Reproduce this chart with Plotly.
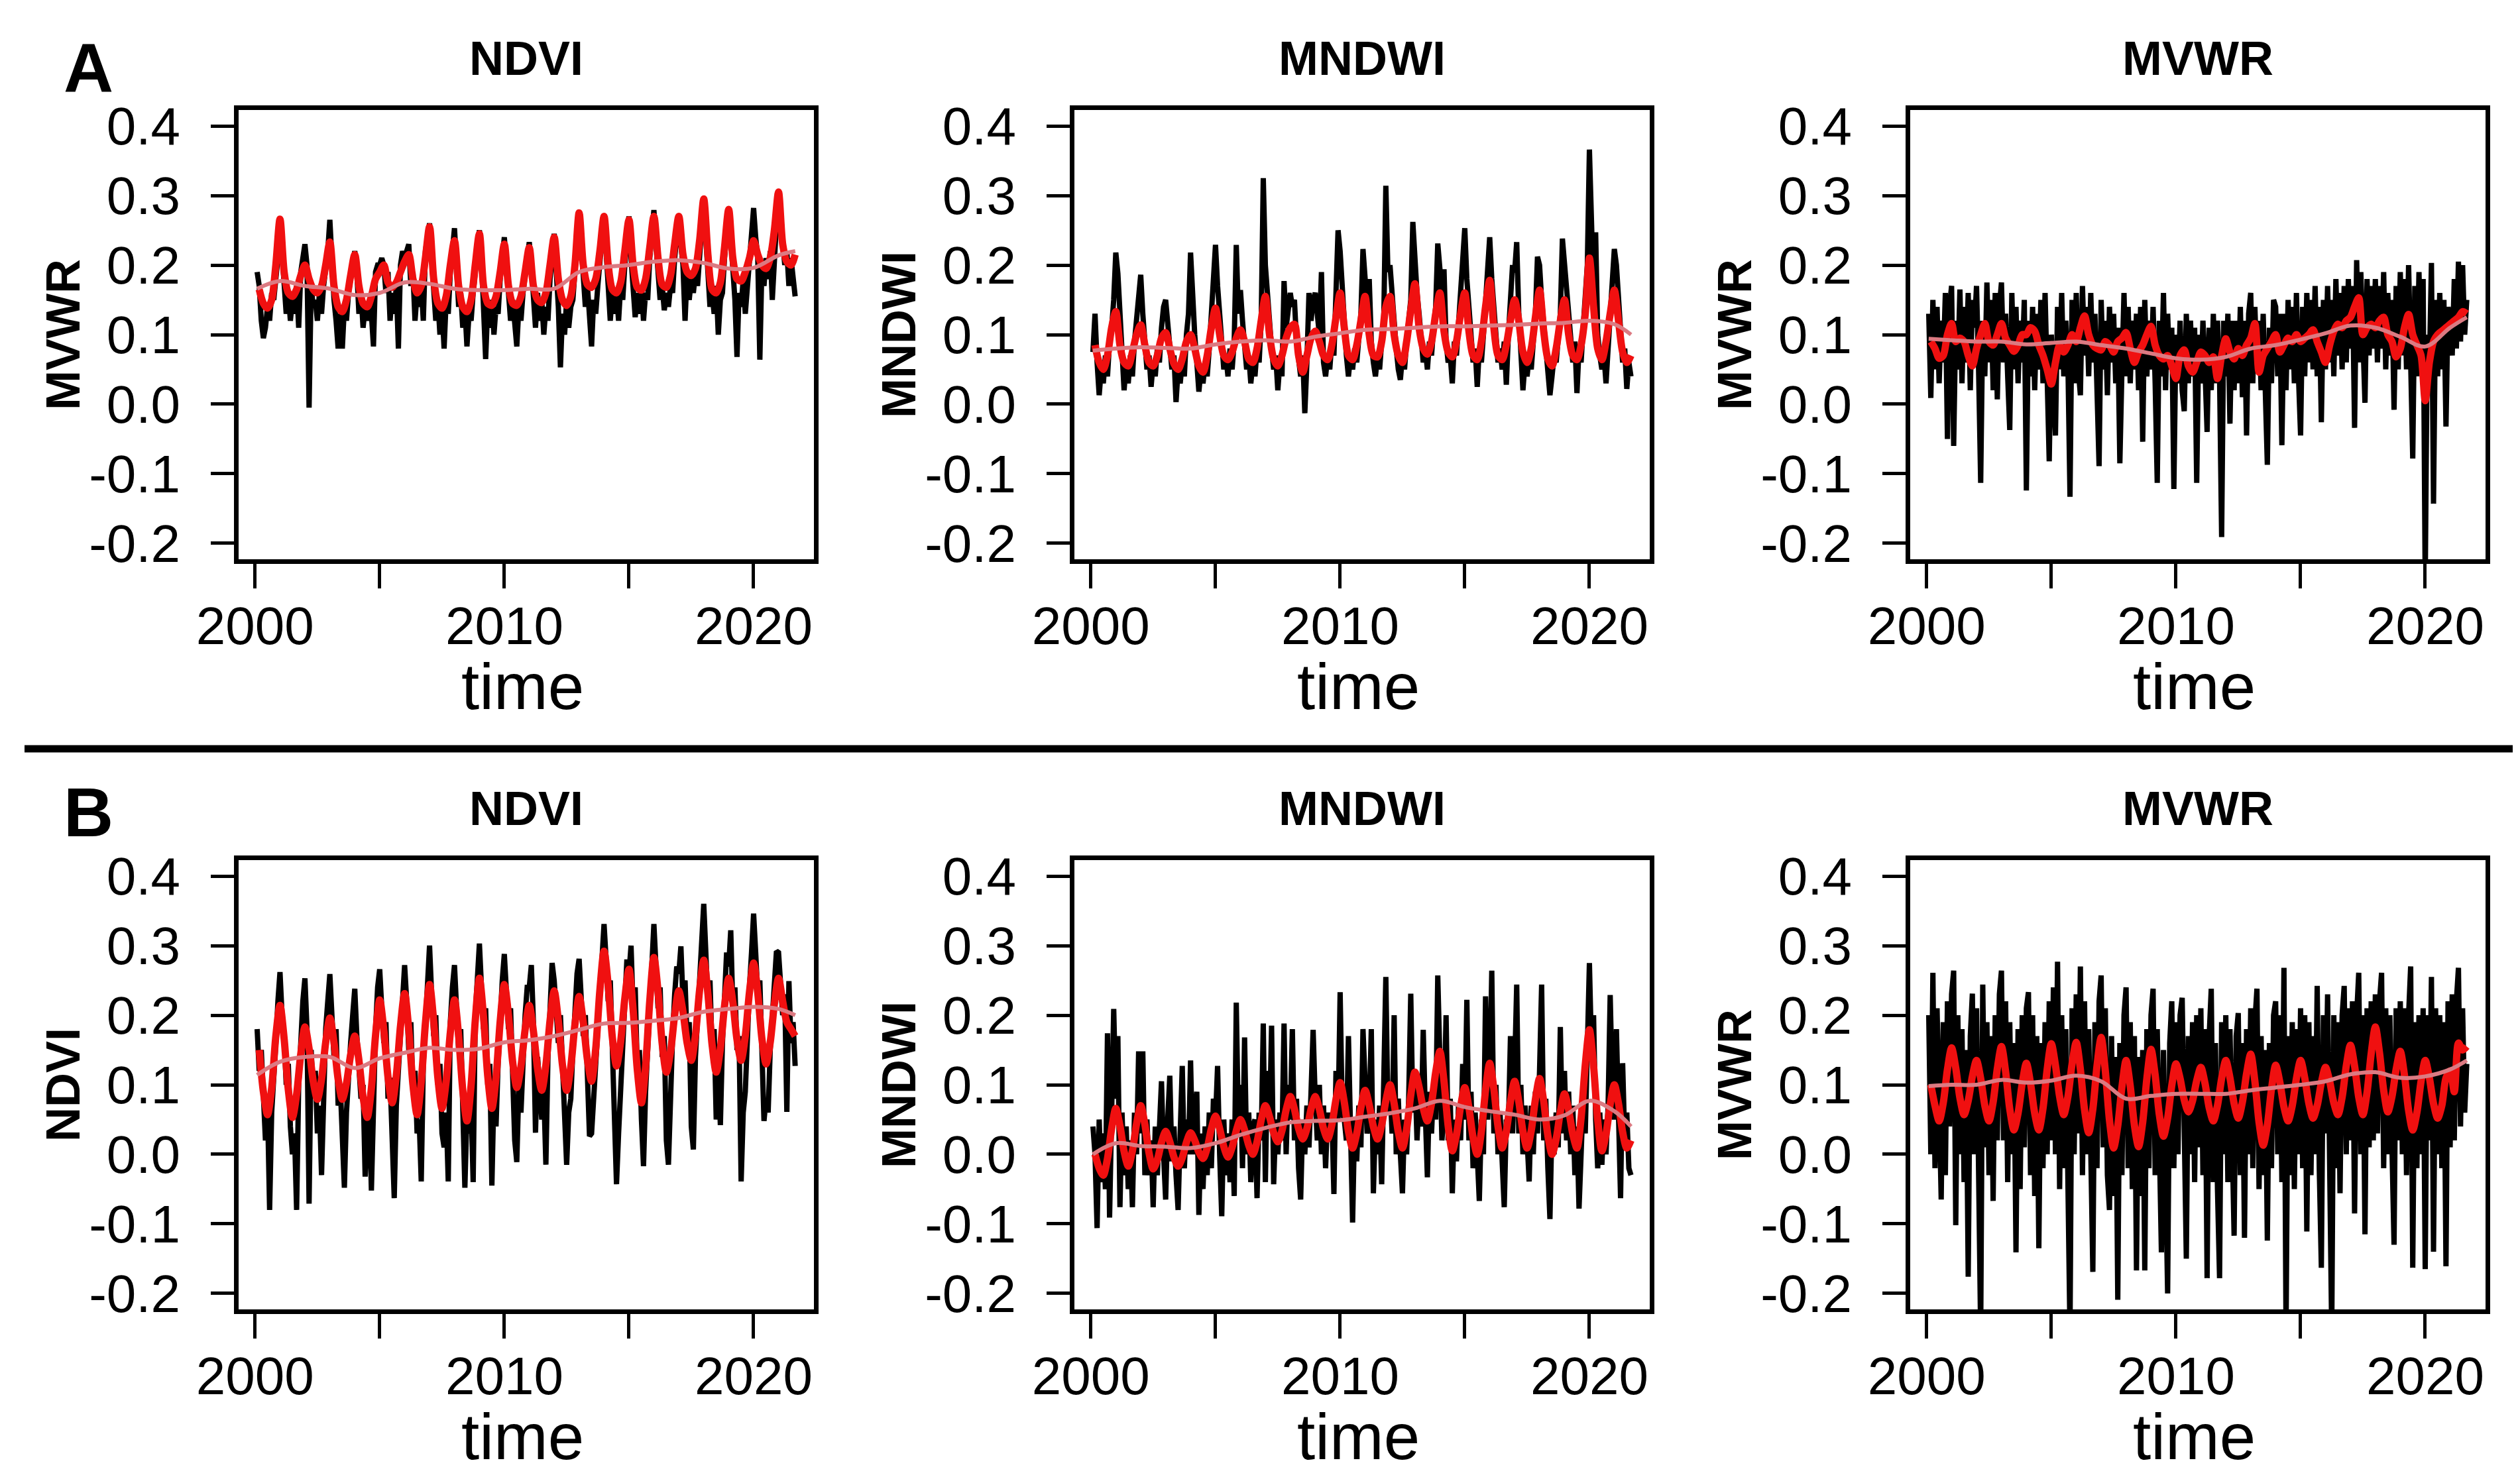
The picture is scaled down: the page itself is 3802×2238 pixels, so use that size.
import plotly.graph_objects as go

W, H = 3802, 2238

# ---------------- time grids ----------------
obs_time = [2000 + (k + 1) / 12 for k in range(260)]        # monthly, Feb 2000 - Sep 2021
fit_time = [2000 + (2 * j + 2) / 12 for j in range(130)]    # every second month, Mar 2000 - Sep 2021
trend_time = [2000.08] + list(range(2001, 2022)) + [2021.67]

# ---------------- text ----------------
col_titles = ["NDVI", "MNDWI", "MVWR"]
a_ylabels = ["MVWR", "MNDWI", "MVWR"]
b_ylabels = ["NDVI", "MNDWI", "MVWR"]
row_letters = ["A", "B"]
x_label = "time"
y_tickvals = [0.4, 0.3, 0.2, 0.1, 0.0, -0.1, -0.2]
y_ticktext = ["0.4", "0.3", "0.2", "0.1", "0.0", "-0.1", "-0.2"]
x_tickvals = [2000, 2005, 2010, 2015, 2020]
x_ticktext = ["2000", "", "2010", "", "2020"]

# ================= ROW A =================
a_ndvi_obs = [
    0.19, 0.17, 0.12, 0.095, 0.11, 0.14, 0.12, 0.16, 0.15, 0.18, 0.21,
    0.26, 0.22, 0.18, 0.13, 0.16, 0.12, 0.15, 0.13, 0.17, 0.11, 0.19, 0.21,
    0.23, 0.2, -0.005, 0.17, 0.14, 0.15, 0.12, 0.16, 0.13, 0.17, 0.19, 0.22,
    0.265, 0.2, 0.15, 0.12, 0.08, 0.13, 0.08, 0.14, 0.12, 0.16, 0.18, 0.21,
    0.22, 0.19, 0.13, 0.16, 0.11, 0.14, 0.12, 0.15, 0.13, 0.083, 0.19, 0.2,
    0.2, 0.21, 0.2, 0.16, 0.19, 0.12, 0.16, 0.13, 0.17, 0.08, 0.2, 0.22,
    0.21, 0.22, 0.23, 0.17, 0.19, 0.12, 0.16, 0.14, 0.17, 0.12, 0.22, 0.24,
    0.26, 0.21, 0.16, 0.12, 0.15, 0.1, 0.14, 0.08, 0.15, 0.13, 0.19, 0.22,
    0.253, 0.2, 0.14, 0.16, 0.11, 0.14, 0.083, 0.13, 0.12, 0.16, 0.19, 0.23,
    0.25, 0.21, 0.15, 0.065, 0.14, 0.11, 0.15, 0.1, 0.14, 0.13, 0.18, 0.21,
    0.24, 0.2, 0.16, 0.12, 0.15, 0.11, 0.083, 0.14, 0.12, 0.16, 0.19, 0.22,
    0.233, 0.2, 0.15, 0.11, 0.16, 0.12, 0.15, 0.1, 0.14, 0.12, 0.18, 0.22,
    0.245, 0.19, 0.14, 0.053, 0.13, 0.1, 0.15, 0.11, 0.14, 0.15, 0.19, 0.23,
    0.277, 0.23, 0.18, 0.14, 0.17, 0.13, 0.083, 0.15, 0.13, 0.17, 0.2, 0.24,
    0.273, 0.22, 0.18, 0.12, 0.16, 0.13, 0.16, 0.12, 0.17, 0.15, 0.2, 0.24,
    0.27, 0.21, 0.17, 0.125, 0.16, 0.13, 0.17, 0.12, 0.16, 0.15, 0.21, 0.24,
    0.279, 0.23, 0.19, 0.15, 0.17, 0.135, 0.16, 0.14, 0.17, 0.16, 0.21, 0.25,
    0.27, 0.23, 0.2, 0.12, 0.19, 0.15, 0.18, 0.16, 0.19, 0.17, 0.22, 0.25,
    0.295, 0.24, 0.19, 0.14, 0.16, 0.13, 0.17, 0.1, 0.15, 0.16, 0.21, 0.25,
    0.28, 0.24, 0.2, 0.15, 0.068, 0.16, 0.14, 0.18, 0.13, 0.17, 0.2, 0.25,
    0.282, 0.24, 0.21, 0.064, 0.2, 0.17, 0.21, 0.18, 0.22, 0.15, 0.23, 0.26,
    0.3, 0.27, 0.23, 0.2, 0.22, 0.17, 0.21, 0.18, 0.155,
]
a_ndvi_fit = [
    0.165, 0.145, 0.138, 0.15, 0.2,
    0.266, 0.19, 0.16, 0.155, 0.165, 0.185,
    0.2, 0.18, 0.165, 0.16, 0.17, 0.2,
    0.233, 0.17, 0.14, 0.133, 0.15, 0.185,
    0.215, 0.17, 0.145, 0.14, 0.155, 0.18,
    0.19, 0.2, 0.175, 0.168, 0.175, 0.19,
    0.205, 0.215, 0.18, 0.16, 0.17, 0.21,
    0.255, 0.18, 0.145, 0.138, 0.155, 0.2,
    0.235, 0.17, 0.14, 0.133, 0.15, 0.2,
    0.245, 0.17, 0.145, 0.142, 0.155, 0.19,
    0.23, 0.17, 0.145, 0.142, 0.155, 0.19,
    0.225, 0.17, 0.15, 0.146, 0.16, 0.2,
    0.24, 0.18, 0.15, 0.142, 0.155, 0.2,
    0.275, 0.2, 0.172, 0.168, 0.18, 0.22,
    0.27, 0.2, 0.165, 0.16, 0.175, 0.22,
    0.265, 0.2, 0.168, 0.164, 0.18, 0.225,
    0.27, 0.21, 0.172, 0.168, 0.185, 0.23,
    0.27, 0.215, 0.19, 0.185, 0.195, 0.235,
    0.295, 0.215, 0.165, 0.16, 0.175, 0.225,
    0.28, 0.21, 0.18, 0.177, 0.19, 0.21,
    0.235, 0.215, 0.2, 0.195, 0.21, 0.25,
    0.305, 0.23, 0.205, 0.2, 0.215,
]
a_ndvi_trend = [0.166, 0.177, 0.17, 0.166, 0.157, 0.16, 0.175, 0.173, 0.166, 0.164, 0.164, 0.166,
                0.166, 0.19, 0.197, 0.2, 0.205, 0.207, 0.203, 0.195, 0.196, 0.214, 0.22]

a_mndwi_obs = [
    0.075, 0.13, 0.06, 0.013, 0.05, 0.03, 0.07, 0.04, 0.09, 0.11, 0.15,
    0.218, 0.188, 0.12, 0.06, 0.02, 0.06, 0.03, 0.07, 0.04, 0.09, 0.12, 0.15,
    0.186, 0.13, 0.09, 0.05, 0.07, 0.025, 0.06, 0.04, 0.08, 0.06, 0.11, 0.14,
    0.15, 0.12, 0.08, 0.05, 0.07, 0.003, 0.05, 0.03, 0.06, 0.04, 0.1, 0.13,
    0.218, 0.14, 0.1, 0.06, 0.018, 0.05, 0.03, 0.06, 0.04, 0.08, 0.13, 0.16,
    0.229, 0.17, 0.12, 0.08, 0.05, 0.07, 0.04, 0.08, 0.05, 0.09, 0.229, 0.13,
    0.164, 0.12, 0.08, 0.05, 0.07, 0.03, 0.06, 0.04, 0.08, 0.06, 0.12, 0.325,
    0.2, 0.15, 0.11, 0.08, 0.05, 0.07, 0.02, 0.06, 0.04, 0.177, 0.11, 0.14,
    0.16, 0.14, 0.15, 0.09, 0.06, 0.04, 0.07, -0.013, 0.06, 0.16, 0.12, 0.15,
    0.16, 0.12, 0.1, 0.19, 0.06, 0.04, 0.07, 0.05, 0.09, 0.07, 0.14, 0.25,
    0.22, 0.16, 0.12, 0.07, 0.04, 0.07, 0.05, 0.08, 0.06, 0.1, 0.13, 0.223,
    0.18, 0.14, 0.18, 0.09, 0.06, 0.04, 0.07, 0.05, 0.09, 0.12, 0.314, 0.19,
    0.2, 0.15, 0.12, 0.08, 0.05, 0.035, 0.07, 0.05, 0.09, 0.12, 0.15, 0.262,
    0.2, 0.16, 0.13, 0.09, 0.06, 0.08, 0.05, 0.09, 0.07, 0.11, 0.14, 0.231,
    0.2, 0.16, 0.194, 0.09, 0.06, 0.07, 0.03, 0.09, 0.07, 0.11, 0.15, 0.2,
    0.253, 0.18, 0.13, 0.09, 0.06, 0.08, 0.025, 0.08, 0.06, 0.1, 0.14, 0.2,
    0.24, 0.18, 0.14, 0.1, 0.06, 0.08, 0.05, 0.09, 0.028, 0.1, 0.14, 0.2,
    0.19, 0.233, 0.13, 0.08, 0.02, 0.06, 0.04, 0.07, 0.05, 0.09, 0.13, 0.212,
    0.2, 0.15, 0.11, 0.07, 0.05, 0.013, 0.04, 0.07, 0.06, 0.09, 0.13, 0.238,
    0.2, 0.16, 0.12, 0.08, 0.06, 0.09, 0.016, 0.08, 0.06, 0.11, 0.15, 0.2,
    0.366, 0.22, 0.16, 0.247, 0.1, 0.07, 0.05, 0.07, 0.03, 0.08, 0.13, 0.18,
    0.223, 0.2, 0.15, 0.1, 0.06, 0.08, 0.022, 0.06, 0.04,
]
a_mndwi_fit = [
    0.085, 0.06, 0.05, 0.07, 0.11,
    0.133, 0.085, 0.06, 0.055, 0.075, 0.1,
    0.114, 0.085, 0.06, 0.055, 0.07, 0.095,
    0.103, 0.08, 0.058, 0.05, 0.065, 0.09,
    0.1, 0.08, 0.055, 0.046, 0.07, 0.11,
    0.138, 0.1, 0.07, 0.064, 0.075, 0.095,
    0.107, 0.09, 0.065, 0.06, 0.08, 0.12,
    0.155, 0.1, 0.065, 0.055, 0.07, 0.095,
    0.11, 0.115, 0.07, 0.046, 0.07, 0.095,
    0.105, 0.09, 0.07, 0.064, 0.085, 0.125,
    0.16, 0.11, 0.07, 0.064, 0.085, 0.12,
    0.155, 0.1, 0.07, 0.068, 0.09, 0.14,
    0.155, 0.1, 0.07, 0.06, 0.09, 0.135,
    0.173, 0.11, 0.08, 0.072, 0.09, 0.13,
    0.16, 0.105, 0.075, 0.068, 0.09, 0.13,
    0.16, 0.105, 0.07, 0.064, 0.09, 0.14,
    0.178, 0.11, 0.07, 0.064, 0.085, 0.12,
    0.15, 0.12, 0.075, 0.06, 0.08, 0.125,
    0.164, 0.105, 0.065, 0.055, 0.08, 0.12,
    0.15, 0.1, 0.07, 0.064, 0.085, 0.13,
    0.21, 0.14, 0.08, 0.064, 0.09, 0.13,
    0.164, 0.12, 0.075, 0.06, 0.07,
]
a_mndwi_trend = [0.077, 0.08, 0.082, 0.081, 0.08, 0.086, 0.09, 0.092, 0.09, 0.097, 0.102, 0.107,
                 0.108, 0.11, 0.112, 0.112, 0.113, 0.114, 0.116, 0.117, 0.12, 0.115, 0.1]

a_mvwr_obs = [
    0.13, 0.009, 0.15, 0.05, 0.14, 0.03, 0.12, 0.06, 0.16, -0.05, 0.14,
    0.17, -0.06, 0.12, 0.05, 0.165, 0.03, 0.14, 0.06, 0.16, 0.02, 0.15, 0.11,
    0.17, 0.05, -0.113, 0.12, 0.04, 0.175, 0.06, 0.15, 0.02, 0.16, 0.007, 0.14,
    0.175, 0.06, 0.13, 0.04, -0.037, 0.16, 0.05, 0.14, 0.03, 0.12, 0.06, 0.15,
    -0.124, 0.12, 0.04, 0.14, 0.02, 0.13, 0.05, 0.15, 0.03, 0.16, 0.06, -0.082,
    0.1, 0.03, -0.045, 0.14, 0.05, 0.16, 0.04, 0.12, 0.06, -0.133, 0.15, 0.03,
    0.16, 0.05, 0.013, 0.17, 0.07, 0.14, 0.04, 0.16, 0.06, 0.13, 0.03, -0.089,
    0.15, 0.05, 0.12, 0.013, 0.14, 0.06, 0.13, 0.03, 0.11, -0.085, 0.05, 0.16,
    0.04, 0.14, 0.03, 0.12, 0.05, 0.13, 0.02, 0.14, -0.054, 0.15, 0.04, 0.12,
    0.05, 0.14, 0.03, -0.113, 0.12, 0.04, 0.16, 0.02, 0.13, 0.05, 0.11, -0.122,
    0.1, 0.03, 0.12, 0.02, -0.01, 0.13, 0.03, 0.12, 0.04, 0.11, -0.113, 0.1,
    0.03, 0.12, 0.05, -0.04, 0.11, 0.02, 0.13, 0.03, 0.12, 0.04, -0.191, 0.12,
    0.04, 0.13, -0.028, 0.12, 0.02, 0.12, 0.03, 0.14, 0.01, 0.12, -0.045, 0.13,
    0.16, 0.03, 0.14, 0.05, 0.12, 0.02, 0.13, 0.04, -0.087, 0.11, 0.03, 0.15,
    0.14, 0.04, 0.13, -0.059, 0.13, 0.02, 0.15, 0.05, 0.14, 0.03, 0.16, 0.04,
    -0.045, 0.14, 0.04, 0.16, 0.06, 0.15, 0.05, 0.17, 0.04, 0.14, -0.026, 0.15,
    0.05, 0.17, 0.06, 0.15, 0.04, 0.18, 0.07, 0.16, 0.05, 0.17, 0.06, 0.18,
    0.08, 0.17, -0.034, 0.207, 0.06, 0.19, 0.07, 0.002, 0.18, 0.07, 0.17, 0.08,
    0.18, 0.06, 0.17, 0.08, 0.19, 0.05, 0.16, 0.07, 0.15, -0.008, 0.17, 0.05,
    0.19, 0.07, 0.18, 0.05, 0.2, 0.06, -0.078, 0.17, 0.04, 0.19, 0.06, 0.18,
    -0.26, 0.1, 0.05, 0.203, -0.143, 0.15, 0.04, 0.16, 0.05, 0.15, -0.032, 0.14,
    0.1, 0.07, 0.18, 0.08, 0.205, 0.09, 0.2, 0.1, 0.15,
]
a_mvwr_fit = [
    0.09, 0.08, 0.066, 0.07, 0.1,
    0.116, 0.09, 0.095, 0.09, 0.07, 0.055,
    0.08, 0.1, 0.116, 0.09, 0.085, 0.1,
    0.116, 0.095, 0.085, 0.076, 0.085, 0.1,
    0.1, 0.11, 0.105, 0.085, 0.07, 0.05,
    0.029, 0.06, 0.085, 0.075, 0.085, 0.1,
    0.09, 0.11, 0.127, 0.1, 0.085, 0.08,
    0.078, 0.09, 0.085, 0.075, 0.09, 0.095,
    0.103, 0.08, 0.06, 0.075, 0.085, 0.1,
    0.112, 0.085, 0.07, 0.065, 0.07, 0.055,
    0.037, 0.07, 0.078, 0.055, 0.046, 0.06,
    0.075, 0.07, 0.06, 0.068, 0.037, 0.07,
    0.094, 0.075, 0.065, 0.08, 0.07, 0.085,
    0.095, 0.116, 0.046, 0.07, 0.08, 0.09,
    0.1, 0.075, 0.085, 0.095, 0.09, 0.1,
    0.09, 0.095, 0.1, 0.107, 0.09, 0.075,
    0.06, 0.085, 0.105, 0.115, 0.11, 0.12,
    0.125, 0.14, 0.153, 0.1, 0.11, 0.115,
    0.11, 0.12, 0.125, 0.1, 0.09, 0.068,
    0.08, 0.11, 0.129, 0.1, 0.085, 0.07,
    0.005, 0.06, 0.09, 0.1, 0.105, 0.11,
    0.115, 0.12, 0.125, 0.133, 0.13,
]
a_mvwr_trend = [0.094, 0.092, 0.09, 0.09, 0.086, 0.088, 0.09, 0.085, 0.08, 0.073, 0.066, 0.064,
                0.068, 0.08, 0.085, 0.093, 0.102, 0.113, 0.11, 0.097, 0.083, 0.11, 0.125]

# ================= ROW B =================
b_ndvi_obs = [
    0.18, 0.12, 0.15, 0.06, 0.02, 0.07, -0.08, 0.06, 0.1, 0.16, 0.22,
    0.262, 0.2, 0.17, 0.1, 0.13, 0.04, 0.0, 0.03, -0.08, 0.1, 0.17, 0.22,
    0.253, 0.18, -0.071, 0.15, 0.09, 0.12, 0.03, 0.07, -0.03, 0.11, 0.18, 0.22,
    0.259, 0.2, 0.14, 0.18, 0.07, 0.1, 0.02, -0.048, 0.06, 0.12, 0.16, 0.2,
    0.238, 0.17, 0.12, 0.08, 0.1, -0.032, 0.04, 0.07, -0.052, 0.1, 0.18, 0.24,
    0.266, 0.21, 0.16, 0.19, 0.08, 0.11, 0.0, -0.063, 0.07, 0.12, 0.19, 0.24,
    0.272, 0.22, 0.15, 0.19, 0.09, 0.12, 0.03, 0.05, -0.039, 0.13, 0.2, 0.25,
    0.3, 0.23, 0.17, 0.2, 0.1, 0.13, 0.03, 0.01, 0.06, -0.039, 0.19, 0.24,
    0.272, 0.21, 0.15, 0.18, 0.08, -0.048, 0.06, 0.03, 0.07, -0.04, 0.2, 0.26,
    0.303, 0.24, 0.18, 0.21, 0.1, 0.13, -0.045, 0.09, 0.04, 0.13, 0.21, 0.25,
    0.288, 0.23, 0.18, 0.21, 0.12, 0.02, -0.011, 0.1, 0.06, 0.14, 0.2, 0.24,
    0.24, 0.272, 0.19, 0.031, 0.14, 0.1, 0.05, 0.09, -0.015, 0.14, 0.21, 0.275,
    0.25, 0.21, 0.16, 0.2, 0.11, 0.03, -0.015, 0.06, 0.08, 0.15, 0.22, 0.26,
    0.281, 0.23, 0.17, 0.2, 0.12, 0.026, 0.03, 0.07, 0.13, 0.18, 0.24, 0.3,
    0.331, 0.28, 0.22, 0.25, 0.15, 0.06, -0.043, 0.03, 0.09, 0.17, 0.23, 0.28,
    0.26, 0.3, 0.21, 0.24, 0.12, 0.15, 0.05, -0.017, 0.09, 0.16, 0.23, 0.28,
    0.331, 0.27, 0.21, 0.24, 0.14, 0.17, 0.02, -0.015, 0.12, 0.17, 0.23, 0.27,
    0.26, 0.299, 0.22, 0.25, 0.16, 0.19, 0.04, 0.007, 0.14, 0.19, 0.25, 0.31,
    0.36, 0.29, 0.22, 0.25, 0.15, 0.18, 0.05, 0.12, 0.042, 0.16, 0.23, 0.29,
    0.27, 0.322, 0.21, 0.24, 0.15, 0.17, -0.039, 0.06, 0.09, 0.18, 0.24, 0.29,
    0.346, 0.29, 0.23, 0.25, 0.15, 0.048, 0.08, 0.06, 0.15, 0.2, 0.25, 0.292,
    0.29, 0.25, 0.2, 0.23, 0.061, 0.249, 0.16, 0.19, 0.127,
]
b_ndvi_fit = [
    0.15, 0.09, 0.057, 0.095, 0.17,
    0.214, 0.166, 0.093, 0.053, 0.086, 0.144,
    0.183, 0.152, 0.105, 0.079, 0.108, 0.161,
    0.196, 0.161, 0.108, 0.079, 0.102, 0.143,
    0.17, 0.135, 0.082, 0.053, 0.095, 0.171,
    0.222, 0.178, 0.111, 0.074, 0.113, 0.184,
    0.231, 0.179, 0.1, 0.057, 0.104, 0.188,
    0.244, 0.191, 0.11, 0.066, 0.105, 0.175,
    0.222, 0.17, 0.092, 0.048, 0.099, 0.192,
    0.253, 0.197, 0.113, 0.066, 0.11, 0.191,
    0.244, 0.2, 0.133, 0.096, 0.126, 0.179,
    0.214, 0.177, 0.123, 0.092, 0.128, 0.192,
    0.235, 0.192, 0.128, 0.092, 0.126, 0.187,
    0.227, 0.19, 0.136, 0.105, 0.152, 0.236,
    0.292, 0.243, 0.168, 0.127, 0.162, 0.224,
    0.266, 0.208, 0.122, 0.074, 0.126, 0.22,
    0.283, 0.234, 0.159, 0.118, 0.147, 0.2,
    0.235, 0.205, 0.16, 0.135, 0.171, 0.236,
    0.279, 0.231, 0.158, 0.118, 0.152, 0.213,
    0.253, 0.219, 0.165, 0.135, 0.17, 0.233,
    0.275, 0.232, 0.166, 0.13, 0.161, 0.216,
    0.253, 0.22, 0.19, 0.18, 0.17,
]
b_ndvi_trend = [0.114, 0.133, 0.14, 0.14, 0.124, 0.138, 0.146, 0.153, 0.15, 0.152, 0.161, 0.164,
                0.17, 0.179, 0.188, 0.189, 0.192, 0.196, 0.205, 0.209, 0.212, 0.209, 0.2]

b_mndwi_obs = [
    0.04, 0.0, -0.106, 0.05, -0.04, 0.03, -0.05, 0.174, -0.091, 0.1, 0.209,
    0.08, 0.17, -0.076, 0.06, -0.03, 0.04, -0.05, 0.02, -0.076, 0.06, 0.0, 0.148,
    0.03, 0.148, -0.03, 0.05, -0.03, 0.02, -0.076, 0.04, -0.03, 0.06, 0.105, 0.0,
    -0.065, 0.05, 0.113, -0.01, 0.04, -0.03, -0.08, 0.03, 0.127, -0.02, 0.05, 0.0,
    0.135, 0.0, 0.05, 0.09, -0.087, 0.03, -0.05, 0.04, -0.03, 0.06, -0.02, 0.08,
    0.05, 0.127, 0.0, -0.089, 0.05, -0.03, 0.03, -0.04, 0.05, -0.06, 0.218, 0.04,
    0.1, -0.02, 0.168, 0.0, 0.06, -0.04, 0.04, 0.05, -0.063, 0.06, 0.02, 0.188,
    -0.04, 0.12, 0.04, 0.185, -0.043, 0.05, 0.0, 0.06, 0.02, 0.188, 0.0, 0.1,
    0.05, 0.18, 0.02, 0.08, -0.02, -0.065, 0.05, 0.0, 0.07, 0.01, 0.09, 0.179,
    0.08, 0.02, 0.1, 0.0, 0.07, -0.02, 0.06, 0.02, 0.06, -0.057, 0.12, 0.05,
    0.233, 0.06, 0.05, 0.02, 0.17, 0.0, -0.098, 0.05, -0.01, 0.07, 0.01, 0.18,
    0.08, 0.03, 0.06, 0.18, -0.056, 0.05, 0.0, 0.07, -0.043, 0.08, 0.255, 0.06,
    0.1, 0.03, 0.2, 0.0, 0.08, 0.0, -0.056, 0.05, 0.0, 0.08, 0.231, 0.06,
    0.12, 0.02, 0.08, 0.04, 0.179, 0.06, -0.033, 0.09, 0.03, 0.1, 0.05, 0.257,
    0.1, 0.02, 0.06, 0.2, 0.02, 0.08, -0.056, 0.05, -0.01, 0.07, 0.02, 0.13,
    0.05, 0.222, 0.02, 0.09, -0.02, 0.06, 0.0, -0.067, 0.05, 0.0, 0.227, 0.05,
    0.1, 0.264, 0.03, 0.1, 0.0, 0.06, -0.01, -0.076, 0.05, 0.04, 0.17, 0.03,
    0.12, 0.244, 0.03, 0.1, 0.0, 0.07, 0.02, -0.039, 0.07, 0.0, 0.09, 0.03,
    0.12, 0.244, 0.02, 0.08, -0.02, -0.093, 0.05, 0.0, 0.06, 0.01, 0.183, 0.03,
    0.12, 0.02, 0.09, 0.0, 0.07, -0.03, 0.04, -0.078, 0.0, 0.08, 0.03, 0.14,
    0.275, 0.15, 0.2, 0.05, -0.02, 0.06, -0.015, 0.05, 0.0, 0.07, 0.229, 0.1,
    0.05, 0.18, 0.03, -0.063, 0.131, 0.02, 0.06, -0.02, -0.03,
]
b_mndwi_fit = [
    0.0, -0.02, -0.03, -0.006, 0.037,
    0.066, 0.041, 0.004, -0.017, 0.005, 0.044,
    0.07, 0.043, 0.002, -0.021, -0.008, 0.017,
    0.033, 0.018, -0.004, -0.017, -0.005, 0.017,
    0.031, 0.02, 0.003, -0.006, 0.009, 0.037,
    0.055, 0.037, 0.011, -0.004, 0.01, 0.034,
    0.05, 0.035, 0.013, 0.0, 0.018, 0.049,
    0.07, 0.054, 0.031, 0.018, 0.034, 0.064,
    0.083, 0.065, 0.037, 0.022, 0.037, 0.065,
    0.083, 0.065, 0.037, 0.022, 0.042, 0.079,
    0.103, 0.075, 0.033, 0.009, 0.03, 0.067,
    0.092, 0.071, 0.04, 0.022, 0.042, 0.077,
    0.1, 0.073, 0.032, 0.009, 0.036, 0.085,
    0.118, 0.097, 0.066, 0.048, 0.073, 0.118,
    0.148, 0.105, 0.041, 0.005, 0.028, 0.069,
    0.096, 0.067, 0.024, 0.0, 0.033, 0.092,
    0.131, 0.094, 0.04, 0.009, 0.033, 0.076,
    0.105, 0.076, 0.033, 0.009, 0.034, 0.079,
    0.109, 0.076, 0.027, 0.0, 0.022, 0.061,
    0.087, 0.064, 0.029, 0.009, 0.052, 0.128,
    0.179, 0.127, 0.049, 0.005, 0.029, 0.072,
    0.1, 0.073, 0.032, 0.009, 0.02,
]
b_mndwi_trend = [0.0, 0.016, 0.012, 0.011, 0.009, 0.016, 0.028, 0.038, 0.046, 0.048, 0.049, 0.054,
                 0.059, 0.066, 0.077, 0.068, 0.062, 0.057, 0.05, 0.056, 0.077, 0.062, 0.04]

b_mvwr_obs = [
    0.2, 0.0, 0.261, -0.02, 0.21, 0.02, -0.065, 0.19, -0.03, 0.22, 0.04,
    0.23, 0.264, -0.102, 0.2, 0.0, 0.18, -0.04, 0.15, -0.176, 0.17, 0.231, 0.0,
    0.21, 0.03, -0.26, 0.244, 0.01, 0.19, -0.03, 0.17, -0.067, 0.2, 0.02, 0.23,
    0.264, 0.02, 0.22, -0.04, 0.19, 0.0, 0.16, -0.141, 0.18, -0.05, 0.2, 0.01,
    0.21, 0.233, -0.03, 0.2, -0.06, 0.17, -0.135, 0.16, -0.02, 0.19, 0.0, 0.22,
    0.02, 0.24, 0.0, 0.277, -0.05, 0.2, -0.02, 0.18, 0.01, -0.26, 0.21, 0.0,
    0.23, 0.03, 0.27, -0.03, 0.22, 0.0, 0.18, -0.05, -0.169, 0.19, -0.02, 0.22,
    0.257, 0.01, 0.21, -0.03, -0.08, 0.17, -0.06, 0.14, -0.209, 0.16, -0.03, 0.2,
    0.24, -0.02, 0.19, -0.05, 0.17, -0.167, 0.14, -0.06, 0.15, -0.167, 0.18, -0.02,
    0.2, 0.238, -0.03, 0.18, -0.05, -0.141, 0.15, -0.04, -0.2, 0.16, 0.22, -0.02,
    0.19, 0.0, 0.2, 0.225, -0.03, -0.15, 0.17, 0.0, 0.19, -0.04, 0.2, 0.01,
    0.21, -0.03, 0.18, -0.178, 0.17, 0.238, -0.04, 0.16, -0.05, -0.178, 0.19, 0.0,
    0.2, -0.04, 0.18, 0.02, -0.117, 0.17, 0.203, -0.03, 0.16, -0.12, 0.18, 0.0,
    0.21, -0.02, 0.19, 0.238, -0.05, 0.17, -0.03, 0.15, -0.124, 0.16, -0.02, 0.2,
    0.22, 0.0, 0.2, -0.04, 0.268, -0.26, 0.17, -0.03, 0.19, -0.05, 0.18, 0.0,
    0.21, -0.02, 0.2, -0.111, 0.19, -0.03, 0.17, 0.0, 0.242, -0.02, -0.163, 0.2,
    0.03, 0.23, 0.01, -0.26, 0.2, -0.02, 0.19, -0.056, 0.2, 0.242, 0.0, 0.21,
    0.02, 0.22, -0.085, 0.2, 0.261, 0.0, 0.2, -0.115, 0.21, 0.01, 0.22, 0.02,
    0.23, 0.03, 0.22, 0.261, -0.02, 0.21, 0.0, 0.2, 0.01, -0.13, 0.21, 0.02,
    0.22, 0.0, 0.21, -0.03, 0.2, 0.27, -0.163, 0.19, -0.02, 0.2, 0.0, 0.21,
    -0.165, 0.2, 0.02, 0.255, -0.14, 0.21, 0.0, 0.2, -0.02, 0.19, -0.161, 0.22,
    0.01, 0.23, 0.02, 0.22, 0.268, 0.04, 0.21, 0.06, 0.13,
]
b_mvwr_fit = [
    0.1, 0.07, 0.048, 0.074, 0.122,
    0.153, 0.124, 0.081, 0.057, 0.077, 0.112,
    0.135, 0.109, 0.07, 0.048, 0.075, 0.123,
    0.155, 0.119, 0.065, 0.035, 0.059, 0.102,
    0.131, 0.102, 0.059, 0.035, 0.066, 0.122,
    0.159, 0.128, 0.083, 0.057, 0.083, 0.13,
    0.161, 0.122, 0.064, 0.031, 0.065, 0.127,
    0.168, 0.12, 0.049, 0.009, 0.041, 0.097,
    0.135, 0.098, 0.042, 0.011, 0.046, 0.109,
    0.151, 0.114, 0.057, 0.026, 0.052, 0.099,
    0.13, 0.109, 0.078, 0.061, 0.077, 0.106,
    0.125, 0.102, 0.067, 0.048, 0.07, 0.109,
    0.135, 0.11, 0.073, 0.052, 0.075, 0.116,
    0.144, 0.105, 0.046, 0.013, 0.042, 0.094,
    0.128, 0.104, 0.068, 0.048, 0.07, 0.109,
    0.135, 0.11, 0.073, 0.052, 0.07, 0.103,
    0.125, 0.105, 0.074, 0.057, 0.082, 0.127,
    0.157, 0.127, 0.082, 0.057, 0.089, 0.145,
    0.183, 0.146, 0.092, 0.061, 0.083, 0.122,
    0.148, 0.114, 0.063, 0.035, 0.06, 0.105,
    0.135, 0.11, 0.073, 0.052, 0.07, 0.11,
    0.12, 0.09, 0.16, 0.15, 0.155,
]
b_mvwr_trend = [0.098, 0.1, 0.1, 0.107, 0.103, 0.106, 0.113, 0.105, 0.08, 0.084, 0.087, 0.087,
                0.087, 0.092, 0.096, 0.1, 0.105, 0.115, 0.118, 0.11, 0.112, 0.122, 0.135]

panels = [
    (a_ndvi_obs, a_ndvi_fit, a_ndvi_trend),
    (a_mndwi_obs, a_mndwi_fit, a_mndwi_trend),
    (a_mvwr_obs, a_mvwr_fit, a_mvwr_trend),
    (b_ndvi_obs, b_ndvi_fit, b_ndvi_trend),
    (b_mndwi_obs, b_mndwi_fit, b_mndwi_trend),
    (b_mvwr_obs, b_mvwr_fit, b_mvwr_trend),
]
ylabels = a_ylabels + b_ylabels

# ---------------- layout geometry (pixels) ----------------
PANEL_LEFT = [352, 1613, 2874]
PANEL_W = 868
ROW_TOP = [158, 1290]
PANEL_H = 678
ROW_STEP = 1132
FONT = "Liberation Sans, Arial, Helvetica, sans-serif"


def px_x(v):
    return v / W


def px_y(v):
    return 1 - v / H


fig = go.Figure()
layout = dict(
    template="none",
    width=W, height=H, autosize=False,
    margin=dict(l=0, r=0, t=0, b=0, pad=0, autoexpand=False),
    paper_bgcolor="white", plot_bgcolor="white", showlegend=False,
    font=dict(family=FONT, color="black"),
)

annotations = []
for i, (obs, fit, trend) in enumerate(panels):
    r, c = divmod(i, 3)
    n = i + 1
    xa = "x" if n == 1 else f"x{n}"
    ya = "y" if n == 1 else f"y{n}"
    fig.add_trace(go.Scatter(x=obs_time[:len(obs)], y=obs, mode="lines",
                             line=dict(color="black", width=8), xaxis=xa, yaxis=ya))
    fig.add_trace(go.Scatter(x=fit_time[:len(fit)], y=fit, mode="lines",
                             line=dict(color="#f01010", width=11, shape="spline", smoothing=0.8),
                             xaxis=xa, yaxis=ya))
    fig.add_trace(go.Scatter(x=trend_time[:len(trend)], y=trend, mode="lines",
                             line=dict(color="#dc7a82", width=6, shape="spline"),
                             xaxis=xa, yaxis=ya))
    L = PANEL_LEFT[c]
    T = ROW_TOP[r]
    xkey = "xaxis" if n == 1 else f"xaxis{n}"
    ykey = "yaxis" if n == 1 else f"yaxis{n}"
    layout[xkey] = dict(
        domain=[px_x(L), px_x(L + PANEL_W)], anchor=ya, automargin=False,
        range=[1999.34, 2022.42], tickmode="array",
        tickvals=x_tickvals, ticktext=x_ticktext,
        ticks="outside", ticklen=37, tickwidth=5, tickcolor="black",
        showline=True, linewidth=7, linecolor="black", mirror=True,
        showgrid=False, zeroline=False,
        tickfont=dict(family=FONT, size=80, color="black"),
        ticklabelstandoff=-12,
    )
    layout[ykey] = dict(
        domain=[px_y(T + PANEL_H), px_y(T)], anchor=xa, automargin=False,
        range=[-0.2229, 0.4229], tickmode="array",
        tickvals=y_tickvals, ticktext=y_ticktext,
        ticks="outside", ticklen=35, tickwidth=5, tickcolor="black",
        showline=True, linewidth=7, linecolor="black", mirror=True,
        showgrid=False, zeroline=False,
        tickfont=dict(family=FONT, size=80, color="black"),
        ticklabelstandoff=30,
    )
    cx = L + PANEL_W / 2
    # column title
    annotations.append(dict(text=f"<b>{col_titles[c]}</b>", x=px_x(cx), y=px_y(80 + r * ROW_STEP),
                            xref="paper", yref="paper", xanchor="center", yanchor="middle",
                            showarrow=False, font=dict(family=FONT, size=72, color="black")))
    # y label
    annotations.append(dict(text=f"<b>{ylabels[i]}</b>", x=px_x(L - 265), y=px_y(T + PANEL_H / 2),
                            xref="paper", yref="paper", xanchor="center", yanchor="middle",
                            textangle=-90, showarrow=False,
                            font=dict(family=FONT, size=72, color="black")))
    # x label
    annotations.append(dict(text=x_label, x=px_x(cx - 6), y=px_y(1028 + r * ROW_STEP),
                            xref="paper", yref="paper", xanchor="center", yanchor="middle",
                            showarrow=False, font=dict(family=FONT, size=98, color="black")))

for r, letter in enumerate(row_letters):
    annotations.append(dict(text=f"<b>{letter}</b>", x=px_x(125), y=px_y(94 + r * 1124),
                            xref="paper", yref="paper", xanchor="center", yanchor="middle",
                            showarrow=False, font=dict(family=FONT, size=104, color="black")))

layout["annotations"] = annotations
layout["shapes"] = [dict(type="line", xref="paper", yref="paper",
                         x0=px_x(29), x1=px_x(3783), y0=px_y(1122), y1=px_y(1122),
                         line=dict(color="black", width=11))]
fig.update_layout(**layout)
fig.write_html("out.html")
